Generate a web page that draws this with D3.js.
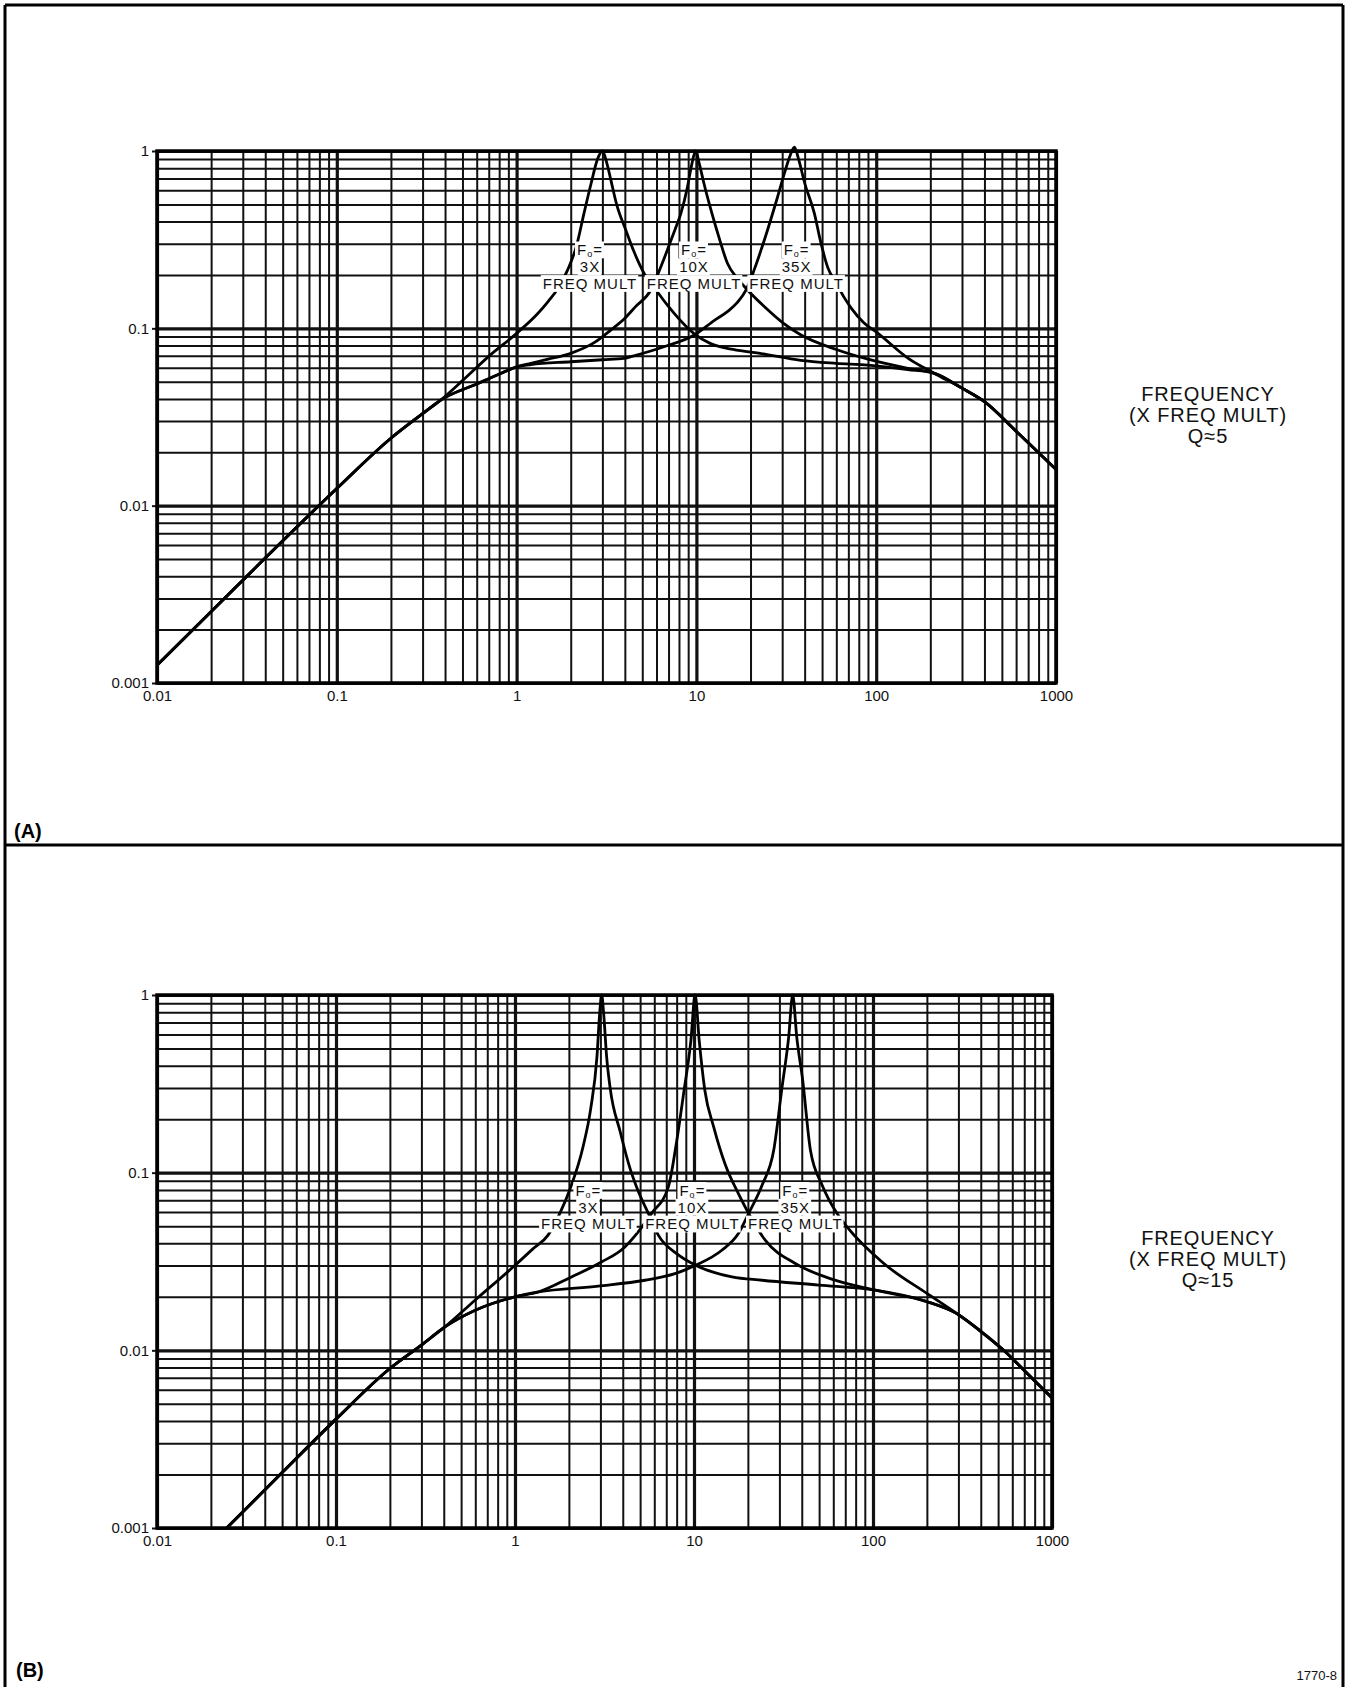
<!DOCTYPE html>
<html>
<head>
<meta charset="utf-8">
<script src="https://cdn.jsdelivr.net/npm/d3@7"></script>
<style>
  html, body { margin: 0; padding: 0; background: #fff; }
  svg { display: block; }
</style>
</head>
<body>
<svg id="fig" width="1347" height="1687"></svg>
<script>
// ---- tick labels ----
const xTicks = [0.01, 0.1, 1, 10, 100, 1000];
const xTickLabels = ["0.01", "0.1", "1", "10", "100", "1000"];
const yTicks = [0.001, 0.01, 0.1, 1];
const yTickLabels = ["0.001", "0.01", "0.1", "1"];
const foNames = ["3X", "10X", "35X"];

// ---- panel A (Q≈5): [frequency, amplitude] ----
const curveA3 = [
  [0.01, 0.00126], [0.03, 0.0038], [0.1, 0.0125], [0.2, 0.024], [0.3, 0.033], [0.38, 0.0395],
  [0.5, 0.0507], [0.7, 0.0695], [1, 0.0937], [1.3, 0.12], [1.5, 0.142], [1.7, 0.168],
  [1.92, 0.213], [2.15, 0.29], [2.37, 0.445], [2.6, 0.66], [2.82, 0.9], [3, 1.0],
  [3.17, 0.86], [3.34, 0.69], [3.6, 0.5], [4.05, 0.358], [4.5, 0.27], [5.12, 0.204],
  [6, 0.163], [6.9, 0.135], [8, 0.113], [9.73, 0.093], [12, 0.082], [16, 0.076],
  [23, 0.072], [38, 0.066], [60, 0.0635], [90, 0.062], [150, 0.0585], [211, 0.0557],
  [300, 0.046], [400, 0.0386], [600, 0.0263], [1000, 0.016]
];
const curveA10 = [
  [0.01, 0.00126], [0.03, 0.0038], [0.1, 0.0125], [0.2, 0.024], [0.3, 0.033], [0.38, 0.0395],
  [0.6, 0.0485], [0.81, 0.0555], [1, 0.0607], [1.2, 0.0635], [1.5, 0.067], [2, 0.0723],
  [2.7, 0.083], [3.34, 0.0978], [4, 0.114], [4.6, 0.133], [5.57, 0.164], [6.2, 0.21],
  [6.9, 0.277], [7.6, 0.36], [8.2, 0.445], [8.9, 0.62], [9.4, 0.83], [9.9, 1.0],
  [10.4, 0.84], [11, 0.66], [12.2, 0.445], [13.3, 0.33], [14.9, 0.232], [17, 0.19],
  [19.3, 0.164], [24, 0.132], [30.8, 0.106], [38, 0.092], [60, 0.076], [90, 0.067],
  [150, 0.0595], [211, 0.0557], [300, 0.046], [400, 0.0386], [600, 0.0263], [1000, 0.016]
];
const curveA35 = [
  [0.01, 0.00126], [0.03, 0.0038], [0.1, 0.0125], [0.2, 0.024], [0.3, 0.033], [0.38, 0.0395],
  [0.6, 0.0485], [0.81, 0.0555], [1, 0.0605], [1.2, 0.0625], [2, 0.0648], [3, 0.0665],
  [3.96, 0.0677], [4.5, 0.07], [6.6, 0.0787], [9.73, 0.0917], [12.6, 0.111], [15, 0.125],
  [16.9, 0.14], [18.9, 0.165], [21, 0.215], [24, 0.32], [28.3, 0.552], [31, 0.76],
  [33.3, 0.95], [35.1, 1.05], [37, 0.9], [40, 0.66], [45.3, 0.445], [49, 0.31],
  [53.8, 0.22], [60, 0.18], [66.7, 0.148], [72.6, 0.13], [85, 0.108], [102, 0.094],
  [150, 0.068], [211, 0.0557], [300, 0.046], [400, 0.0386], [600, 0.0263], [1000, 0.016]
];

// ---- panel B (Q≈15) ----
const curveB3 = [
  [0.0245, 0.001], [0.05, 0.00205], [0.1, 0.0041], [0.2, 0.0079], [0.3, 0.0107], [0.404, 0.0135],
  [0.6, 0.0192], [1, 0.0301], [1.25, 0.037], [1.53, 0.0445], [1.78, 0.059], [2.03, 0.081],
  [2.4, 0.14], [2.65, 0.23], [2.87, 0.45], [2.97, 0.78], [3.05, 1.0], [3.13, 0.78],
  [3.25, 0.45], [3.4, 0.3], [3.87, 0.17], [4.4, 0.105], [4.8, 0.082], [5.6, 0.058],
  [6.32, 0.0445], [8, 0.035], [10.2, 0.0301], [16.3, 0.0259], [24, 0.0248], [50, 0.0233],
  [103, 0.0218], [200, 0.0188], [294, 0.0161], [400, 0.0128], [537, 0.01], [700, 0.0077],
  [1000, 0.0054]
];
const curveB10 = [
  [0.0245, 0.001], [0.05, 0.00205], [0.1, 0.0041], [0.2, 0.0079], [0.3, 0.0107], [0.404, 0.0135],
  [0.6, 0.0168], [1, 0.02], [1.35, 0.0213], [2.07, 0.0259], [3.04, 0.0314], [4.11, 0.0382],
  [4.79, 0.0454], [5.8, 0.059], [7.19, 0.0832], [8, 0.15], [8.75, 0.279], [9.6, 0.55],
  [10.15, 1.0], [10.7, 0.55], [11.5, 0.29], [12.9, 0.18], [15, 0.11], [17.7, 0.0762],
  [20.2, 0.0589], [25, 0.0417], [36.8, 0.0308], [60, 0.025], [103, 0.0218], [200, 0.0188],
  [294, 0.0161], [400, 0.0128], [537, 0.01], [700, 0.0077], [1000, 0.0054]
];
const curveB35 = [
  [0.0245, 0.001], [0.05, 0.00205], [0.1, 0.0041], [0.2, 0.0079], [0.3, 0.0107], [0.404, 0.0135],
  [0.6, 0.0168], [1, 0.02], [1.35, 0.0213], [2.92, 0.023], [5.32, 0.0248], [7.83, 0.027],
  [10.2, 0.0301], [14.3, 0.0366], [17.7, 0.0454], [20.2, 0.0589], [24, 0.085], [27.9, 0.134],
  [31, 0.3], [33.8, 0.58], [35.6, 1.0], [37.5, 0.58], [40.5, 0.33], [44.7, 0.134],
  [52, 0.085], [63, 0.0589], [71.6, 0.0495], [115, 0.0308], [200, 0.0209], [294, 0.0161],
  [400, 0.0128], [537, 0.01], [700, 0.0077], [1000, 0.0054]
];

// label anchors (frequency of each label's centre, amplitude of its bottom line)
const labelFreqA = [2.56, 9.7, 36.1];
const labelAmpA = 0.179;
const labelFreqB = [2.57, 9.8, 36.8];
const labelAmpB = 0.0514;

const FONT = "'Liberation Sans', Arial, Helvetica, sans-serif";
const INK = "#111";

const svg = d3.select("#fig");
svg.append("rect").attr("width", 1347).attr("height", 1687).attr("fill", "#fff");

const isDecade = d => Math.abs(Math.log10(d) - Math.round(Math.log10(d))) < 1e-9;

function drawPanel(box, curves, labelFreq, labelAmp, qText, noteY) {
  const g = svg.append("g");
  const x = d3.scaleLog().domain([0.01, 1000]).range([box.left, box.right]);
  const y = d3.scaleLog().domain([0.001, 1]).range([box.bottom, box.top]);
  const w = box.right - box.left, h = box.bottom - box.top;

  // log grid, every 1..9 step
  g.append("g")
    .attr("transform", `translate(0,${box.bottom})`)
    .call(d3.axisBottom(x).tickValues(x.ticks()).tickSize(-h).tickFormat(""))
    .call(a => a.select(".domain").remove())
    .selectAll(".tick line")
    .attr("stroke", INK)
    .attr("stroke-width", d => isDecade(d) ? 3.2 : 2);

  g.append("g")
    .attr("transform", `translate(${box.left},0)`)
    .call(d3.axisLeft(y).tickValues(y.ticks()).tickSize(-w).tickFormat(""))
    .call(a => a.select(".domain").remove())
    .selectAll(".tick line")
    .attr("stroke", INK)
    .attr("stroke-width", d => isDecade(d) ? 3.2 : 2);

  // tick labels
  g.append("g")
    .attr("transform", `translate(0,${box.bottom})`)
    .call(d3.axisBottom(x).tickValues(xTicks).tickFormat((d, i) => xTickLabels[i]).tickSize(0).tickPadding(7))
    .call(a => a.select(".domain").remove())
    .attr("font-family", FONT).attr("font-size", 15).attr("color", INK);

  g.append("g")
    .attr("transform", `translate(${box.left},0)`)
    .call(d3.axisLeft(y).tickValues(yTicks).tickFormat((d, i) => yTickLabels[i]).tickSize(5).tickPadding(3))
    .call(a => a.select(".domain").remove())
    .attr("font-family", FONT).attr("font-size", 15).attr("color", INK)
    .selectAll(".tick line").attr("stroke-width", 2);

  // response curves
  const line = d3.line()
    .x(d => x(d[0]))
    .y(d => y(d[1]))
    .curve(d3.curveMonotoneX);

  g.append("g")
    .selectAll("path")
    .data(curves)
    .join("path")
    .attr("d", line)
    .attr("fill", "none")
    .attr("stroke", "#000")
    .attr("stroke-width", 2.8)
    .attr("stroke-linejoin", "round");

  // Fo = ... labels with white knock-out
  const fs = 15, pitch = 16.8;
  labelFreq.forEach((f, i) => {
    const cx = x(f), cy = y(labelAmp);
    const lg = g.append("g");
    const rows = [
      { off: -2 * pitch, txt: null },
      { off: -pitch, txt: foNames[i] },
      { off: 0, txt: "FREQ MULT" }
    ];
    rows.forEach(r => {
      const t = lg.append("text")
        .attr("x", cx)
        .attr("y", cy + r.off + fs * 0.36)
        .attr("text-anchor", "middle")
        .attr("font-family", FONT)
        .attr("font-size", fs)
        .attr("letter-spacing", 1)
        .attr("fill", INK);
      if (r.txt === null) {
        t.append("tspan").text("F");
        t.append("tspan").attr("font-size", 9).attr("dy", 2).text("o");
        t.append("tspan").attr("dy", -2).text("=");
      } else {
        t.text(r.txt);
      }
      const bb = t.node().getBBox();
      lg.insert("rect", "text")
        .attr("x", bb.x - 2)
        .attr("y", cy + r.off - pitch / 2)
        .attr("width", bb.width + 3)
        .attr("height", pitch)
        .attr("fill", "#fff");
    });
  });

  // plot frame
  g.append("rect")
    .attr("x", box.left).attr("y", box.top)
    .attr("width", w).attr("height", h)
    .attr("fill", "none").attr("stroke", "#000").attr("stroke-width", 3.5);

  // side note
  ["FREQUENCY", "(X FREQ MULT)", qText].forEach((s, i) => {
    g.append("text")
      .attr("x", 1208)
      .attr("y", noteY + i * 21)
      .attr("text-anchor", "middle")
      .attr("font-family", FONT)
      .attr("font-size", 20)
      .attr("letter-spacing", 0.9)
      .attr("fill", INK)
      .text(s);
  });
}

drawPanel({ left: 157, right: 1056, top: 151, bottom: 683 },
  [curveA3, curveA10, curveA35], labelFreqA, labelAmpA, "Q≈5", 401);
drawPanel({ left: 157, right: 1052, top: 995, bottom: 1528 },
  [curveB3, curveB10, curveB35], labelFreqB, labelAmpB, "Q≈15", 1245);

// page frame
const frame = svg.append("g").attr("stroke", "#000").attr("stroke-width", 3);
frame.append("line").attr("x1", 5).attr("y1", 5).attr("x2", 5).attr("y2", 1687);
frame.append("line").attr("x1", 1343).attr("y1", 5).attr("x2", 1343).attr("y2", 1687);
frame.append("line").attr("x1", 5).attr("y1", 5).attr("x2", 1343).attr("y2", 5);
frame.append("line").attr("x1", 5).attr("y1", 845).attr("x2", 1343).attr("y2", 845);

svg.append("text").attr("x", 14).attr("y", 838)
  .attr("font-family", FONT).attr("font-size", 20).attr("font-weight", "bold")
  .attr("fill", "#000").text("(A)");
svg.append("text").attr("x", 16).attr("y", 1677)
  .attr("font-family", FONT).attr("font-size", 20).attr("font-weight", "bold")
  .attr("fill", "#000").text("(B)");
svg.append("text").attr("x", 1337).attr("y", 1680)
  .attr("text-anchor", "end")
  .attr("font-family", FONT).attr("font-size", 13)
  .attr("fill", INK).text("1770-8");
</script>
</body>
</html>
